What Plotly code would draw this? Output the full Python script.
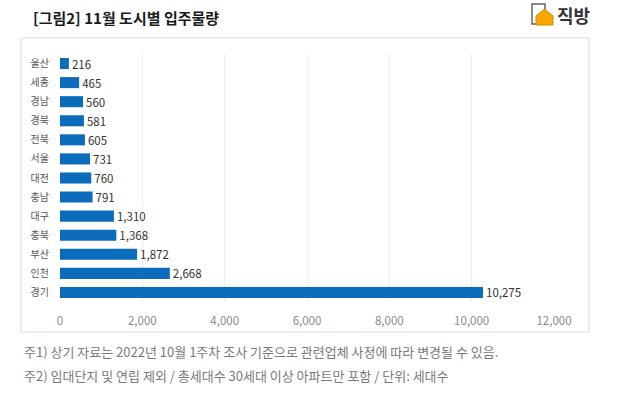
import plotly.graph_objects as go

cities = ["울산", "세종", "경남", "경북", "전북", "서울", "대전", "충남", "대구", "충북", "부산", "인천", "경기"]
units = [216, 465, 560, 581, 605, 731, 760, 791, 1310, 1368, 1872, 2668, 10275]
x_ticks = [0, 2000, 4000, 6000, 8000, 10000, 12000]
x_tick_labels = ["0", "2,000", "4,000", "6,000", "8,000", "10,000", "12,000"]

title_text = "[그림2] 11월 도시별 입주물량"
note1 = "주1) 상기 자료는 2022년 10월 1주차 조사 기준으로 관련업체 사정에 따라 변경될 수 있음."
note2 = "주2) 임대단지 및 연립 제외 / 총세대수 30세대 이상 아파트만 포함 / 단위: 세대수"

W, H = 643, 411
# plot area in page pixels
PL, PR, PT, PB = 60, 554, 54, 302
L, T = PL, PT
R, B = W - PR, H - PB
PW, PH = PR - PL, PB - PT

def px(x):
    return (x - PL) / PW

def py(y):
    return (PB - y) / PH

FONT = "Noto Sans CJK KR"

fig = go.Figure(go.Bar(
    x=units,
    y=cities,
    orientation="h",
    marker=dict(color="#0b6cbc", line=dict(width=0)),
    text=[f"{v:,}" for v in units],
    textposition="outside",
    constraintext="none",
    textfont=dict(family=FONT, size=11.5, color="#333333"),
    cliponaxis=False,
    width=0.58,
))

shapes = [
    dict(type="rect", xref="paper", yref="paper", x0=px(21), x1=px(589), y0=py(38), y1=py(332),
         line=dict(color="#dedede", width=1.2), fillcolor="rgba(0,0,0,0)", layer="below"),
    dict(type="rect", xref="paper", yref="paper", x0=px(532), x1=px(545), y0=py(4), y1=py(24),
         line=dict(color="#666666", width=1.5), fillcolor="white"),
    dict(type="path", xref="paper", yref="paper",
         path=f"M {px(536)},{py(25)} L {px(536)},{py(16)} L {px(544.5)},{py(9)} L {px(553)},{py(16)} L {px(553)},{py(25)} Z",
         line=dict(color="#d98e00", width=1), fillcolor="#f7a800"),
]

annotations = [
    dict(text=title_text, xref="paper", yref="paper", x=px(31), y=py(18), xanchor="left", yanchor="middle",
         showarrow=False, font=dict(family=FONT, size=15, color="#1a1a1a", weight=600)),
    dict(text="<b>직방</b>", xref="paper", yref="paper", x=px(555), y=py(15), xanchor="left", yanchor="middle",
         showarrow=False, font=dict(family=FONT, size=18, color="#333333")),
    dict(text=note1, xref="paper", yref="paper", x=px(22), y=py(351), xanchor="left", yanchor="middle",
         showarrow=False, font=dict(family=FONT, size=13, color="#7a7a7a")),
    dict(text=note2, xref="paper", yref="paper", x=px(22), y=py(375), xanchor="left", yanchor="middle",
         showarrow=False, font=dict(family=FONT, size=13, color="#7a7a7a")),
]

fig.update_layout(
    width=W, height=H,
    margin=dict(l=L, r=R, t=T, b=B, autoexpand=False),
    paper_bgcolor="white",
    plot_bgcolor="white",
    showlegend=False,
    shapes=shapes,
    annotations=annotations,
    xaxis=dict(range=[0, 12000], tickvals=x_ticks, ticktext=x_tick_labels, automargin=False,
               showgrid=True, gridcolor="#efefef", gridwidth=1, zeroline=False,
               showline=False, ticks="", ticklabelstandoff=10,
               tickfont=dict(family=FONT, size=11.5, color="#8a8a8a")),
    yaxis=dict(autorange="reversed", categoryorder="array", categoryarray=cities, automargin=False,
               showgrid=False, zeroline=False, showline=False, ticks="",
               ticklabelstandoff=10,
               tickfont=dict(family=FONT, size=10, color="#555555")),
)

fig.write_html("out.html", config={"displayModeBar": False},
               post_script="document.body.style.margin='0';")
